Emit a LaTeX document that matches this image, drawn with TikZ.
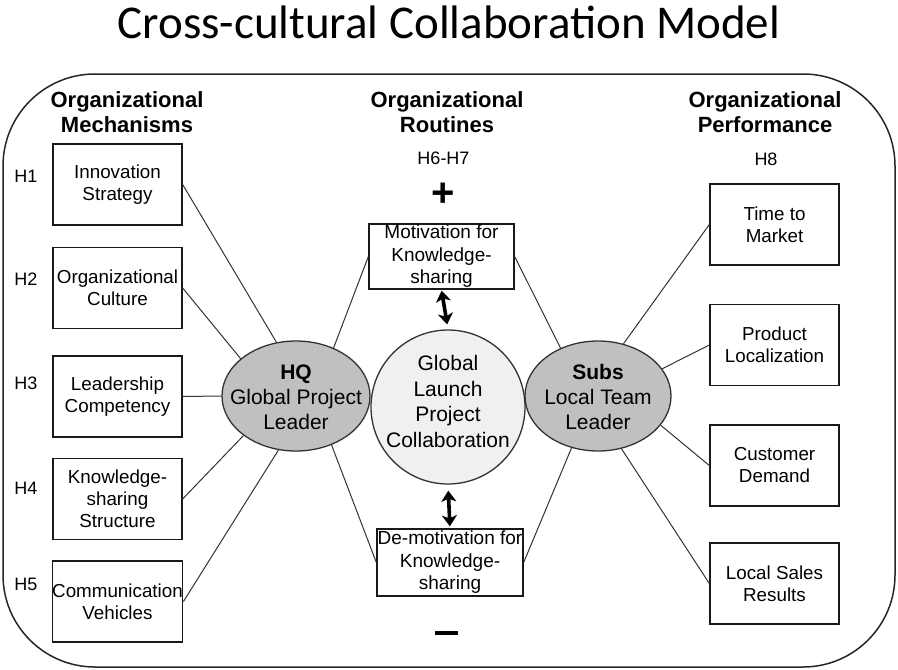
\documentclass[tikz,border=0pt]{standalone}
\usepackage{fontspec}
\setmainfont{Liberation Sans}
\newfontfamily\titlefont{Carlito}
\usetikzlibrary{arrows.meta,shapes.geometric}
\definecolor{ellfill}{HTML}{C0C0C0}
\definecolor{circfill}{HTML}{F0F0F0}
\definecolor{linecol}{HTML}{333333}
\begin{document}
\begin{tikzpicture}[x=1pt,y=-1pt,
  frame/.style={draw=black!85, line width=1.5pt, rounded corners=92pt},
  mbox/.style={draw=black!90, line width=1.3pt, fill=white, minimum width=129pt, minimum height=81pt, inner sep=0pt, align=center, font=\fontsize{18.8}{22}\selectfont},
  rbox/.style={draw=black!90, line width=1.3pt, fill=white, inner sep=0pt, align=center, font=\fontsize{19}{22.5}\selectfont},
  head/.style={align=center, font=\fontsize{22}{25}\selectfont\bfseries, inner sep=0pt},
  hlab/.style={font=\fontsize{18}{22}\selectfont, inner sep=0pt},
  conn/.style={draw=linecol, line width=1pt},
  ell/.style={ellipse, draw=black!80, line width=1.3pt, fill=ellfill, inner sep=0pt},
  ctext/.style={align=center, font=\fontsize{21}{25}\selectfont, inner sep=0pt},
  dbl/.style={{Stealth[length=11pt,width=15pt,inset=3pt]}-{Stealth[length=11pt,width=15pt,inset=3pt]}, line width=3.6pt, black}
]
\useasboundingbox (0,0) rectangle (898,670);

% title
\node[anchor=base, font=\titlefont\fontsize{47}{52}\selectfont, inner sep=0pt] (title) at (449,38) {Cross-cultural Collaboration Model};

% outer frame
\draw[frame] (3,74) rectangle (895,667);

% headers
\node[head] (hm) at (127,112.5) {Organizational\\Mechanisms};
\node[head] (hr) at (447,112.5) {Organizational\\Routines};
\node[head] (hp) at (765,112.5) {Organizational\\Performance};
\node[hlab] (h67) at (443.5,158) {H6-H7};
\node[hlab] (h8) at (766,159) {H8};

% H labels
\node[hlab] (l1) at (26,176) {H1};
\node[hlab] (l2) at (26,279) {H2};
\node[hlab] (l3) at (26,383) {H3};
\node[hlab] (l4) at (26,488) {H4};
\node[hlab] (l5) at (26,584) {H5};

% ellipses
\node[ell, minimum width=148pt, minimum height=110pt] (hq) at (296,396) {};
\node[ell, minimum width=146pt, minimum height=110pt] (subs) at (598,396) {};

% left boxes
\node[mbox] (b1) at (117.5,184.5) {Innovation\\Strategy};
\node[mbox] (b2) at (117.5,288) {Organizational\\Culture};
\node[mbox] (b3) at (117.5,396.5) {Leadership\\Competency};
\node[mbox] (b4) at (117.5,499) {Knowledge-\\sharing\\Structure};
\node[mbox] (b5) at (117.5,601.5) {Communication\\Vehicles};

% right boxes
\node[mbox] (r1) at (774.5,224.5) {Time to\\Market};
\node[mbox] (r2) at (774.5,345) {Product\\Localization};
\node[mbox] (r3) at (774.5,465.5) {Customer\\Demand};
\node[mbox] (r4) at (774.5,583.5) {Local Sales\\Results};

% routine boxes
\node[rbox, minimum width=145pt, minimum height=65pt] (mot) at (441.5,256.5) {Motivation for\\Knowledge-\\sharing};
\node[rbox, minimum width=146pt, minimum height=67pt] (demot) at (450,562.5) {De-motivation for\\Knowledge-\\sharing};

% connectors
\draw[conn] (b1.east) -- (hq.110);
\draw[conn] (b2.east) -- (hq.146);
\draw[conn] (b3.east) -- (hq.180);
\draw[conn] (b4.east) -- (hq.217);
\draw[conn] (b5.east) -- (hq.252);
\draw[conn] (mot.west) -- (hq.52);
\draw[conn] (mot.east) -- (subs.128);
\draw[conn] (demot.west) -- (hq.306);
\draw[conn] (demot.east) -- (subs.243);
\draw[conn] (subs.64) -- (r1.west);
\draw[conn] (subs.23) -- (r2.west);
\draw[conn] (subs.-25) -- (r3.west);
\draw[conn] (subs.-66) -- (r4.west);

% central circle
\node[circle, draw=black!80, line width=1.3pt, fill=circfill, minimum size=154pt, inner sep=0pt] (glc) at (448,407) {};

% texts in ellipses and circle
\node[ctext] (hqt) at (296,397) {\textbf{HQ}\\Global Project\\Leader};
\node[ctext] (subst) at (598,397) {\textbf{Subs}\\Local Team\\Leader};
\node[ctext, font=\fontsize{21}{25.7}\selectfont] (glct) at (448,401.5) {Global\\Launch\\Project\\Collaboration};

% double arrows
\draw[dbl, shorten <=1pt, shorten >=5pt] (mot.south) -- (glc.north);
\draw[dbl, shorten <=6pt, shorten >=2pt] (glc.south) -- (demot.north);

% plus and minus
\node[font=\fontsize{40}{40}\selectfont\bfseries, inner sep=0pt] (plus) at (443,195) {+};
\node[fill=black, minimum width=23pt, minimum height=4.5pt, inner sep=0pt] (minus) at (446,633) {};
\end{tikzpicture}
\end{document}
